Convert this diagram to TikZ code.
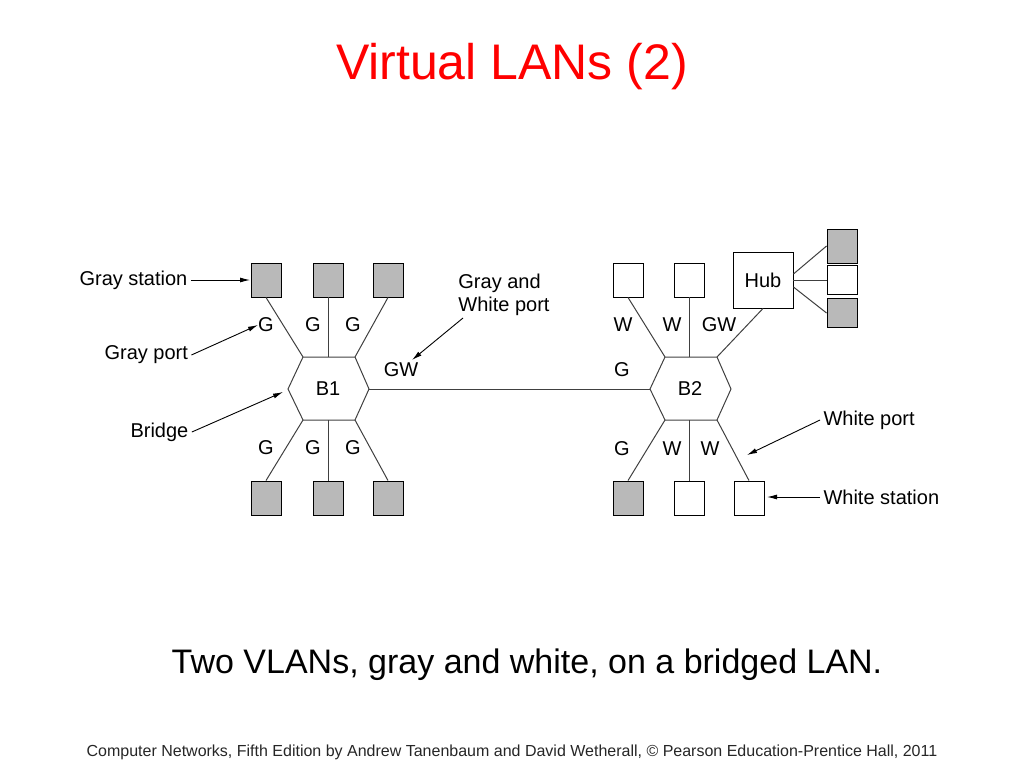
\documentclass[tikz,border=0pt]{standalone}
\usepackage{fontspec}
\setmainfont{Liberation Sans}
\usetikzlibrary{positioning,arrows.meta,calc}
\tikzset{
  gbox/.style={draw, line width=0.9pt, fill=gray!55, minimum width=30pt, minimum height=34pt, inner sep=0pt},
  wbox/.style={draw, line width=0.9pt, fill=white, minimum width=30pt, minimum height=34pt, inner sep=0pt},
  lbl/.style={font=\fontsize{20}{23}\selectfont},
  note/.style={font=\fontsize{20}{23}\selectfont, align=left},
  link/.style={draw=black!75, line width=1pt},
  pointer/.style={-{Latex[length=10pt,width=5pt]}, line width=0.9pt}
}
\newcommand{\hexagon}[2]{% name, centre
  \coordinate (#1tl) at ($(#2)+(-25,-32)$);
  \coordinate (#1tr) at ($(#2)+(27,-32)$);
  \coordinate (#1r)  at ($(#2)+(41,0)$);
  \coordinate (#1br) at ($(#2)+(27,31)$);
  \coordinate (#1bl) at ($(#2)+(-25,31)$);
  \coordinate (#1l)  at ($(#2)+(-40,0)$);
  \draw[link] (#1tl) -- (#1tr) -- (#1r) -- (#1br) -- (#1bl) -- (#1l) -- cycle;
}
\begin{document}
\begin{tikzpicture}[x=1pt,y=-1pt]
  \useasboundingbox (0,0) rectangle (1024,768);

  % title
  \node[text=red, font=\fontsize{50}{54}\selectfont] (title) at (512,67) {Virtual LANs (2)};

  % bridges
  \node[lbl] (B1) at (328,389) {B1};
  \node[lbl] (B2) at (690,389) {B2};
  \hexagon{h1}{B1}
  \hexagon{h2}{B2}

  % stations around B1
  \node[gbox] (s1) at (266,280) {};
  \node[gbox] (s2) at (328,280) {};
  \node[gbox] (s3) at (388,280) {};
  \node[gbox] (s4) at (266,498) {};
  \node[gbox] (s5) at (328,498) {};
  \node[gbox] (s6) at (388,498) {};

  % stations around B2
  \node[wbox] (t1) at (628,280) {};
  \node[wbox] (t2) at (689,280) {};
  \node[draw, line width=0.9pt, fill=white, minimum width=60pt, minimum height=56pt, font=\fontsize{20}{23}\selectfont] (hub) at (763,280) {Hub};
  \node[gbox] (u1) at (842,246) {};
  \node[wbox, minimum height=29pt] (u2) at (842,280) {};
  \node[gbox, minimum height=29pt] (u3) at (842,313) {};
  \node[gbox] (t4) at (628,498) {};
  \node[wbox] (t5) at (689,498) {};
  \node[wbox] (t6) at (749,498) {};

  % wires
  \draw[link] (s1.south) -- (h1tl);
  \draw[link] (s2.south) -- (s2.south |- h1tl);
  \draw[link] (s3.south) -- (h1tr);
  \draw[link] (s4.north) -- (h1bl);
  \draw[link] (s5.north) -- (s5.north |- h1bl);
  \draw[link] (s6.north) -- (h1br);
  \draw[link] (h1r) -- (h2l);
  \draw[link] (t1.south) -- (h2tl);
  \draw[link] (t2.south) -- (t2.south |- h2tl);
  \draw[link] (hub.south) -- (h2tr);
  \draw[link] (t4.north) -- (h2bl);
  \draw[link] (t5.north) -- (t5.north |- h2bl);
  \draw[link] (t6.north) -- (h2br);
  \draw[link] ($(hub.east)+(0,-6)$) -- (u1.west);
  \draw[link] (hub.east) -- (u2.west);
  \draw[link] ($(hub.east)+(0,7)$) -- (u3.west);

  % port labels
  \node[lbl] (p1) at (266,325) {G};
  \node[lbl] (p2) at (313,325) {G};
  \node[lbl] (p3) at (353,325) {G};
  \node[lbl] (p4) at (266,448) {G};
  \node[lbl] (p5) at (313,448) {G};
  \node[lbl] (p6) at (353,448) {G};
  \node[lbl] (p7) at (401,370) {GW};
  \node[lbl] (q1) at (623,325) {W};
  \node[lbl] (q2) at (672,325) {W};
  \node[lbl] (q3) at (719,325) {GW};
  \node[lbl] (q4) at (622,370) {G};
  \node[lbl] (q5) at (622,449) {G};
  \node[lbl] (q6) at (672,449) {W};
  \node[lbl] (q7) at (710,449) {W};

  % annotations
  \node[note, anchor=west] (nstation) at (76,280) {Gray station};
  \node[note, anchor=west] (nport) at (101,355) {Gray port};
  \node[note, anchor=west] (nbridge) at (127,432) {Bridge};
  \node[note, anchor=center] (ngw) at (504,295) {Gray and\\White port};
  \node[note, anchor=west] (nwport) at (820,420) {White port};
  \node[note, anchor=west] (nwstation) at (820,497) {White station};
  \coordinate (a1) at (250,280);
  \coordinate (a2) at (258,325);
  \coordinate (a3) at (283,392);
  \coordinate (a4) at (412,360);
  \coordinate (a5) at (747,455);
  \coordinate (a6) at (767,497);
  \draw[pointer] (nstation.east) -- (a1);
  \draw[pointer] (nport.east) -- (a2);
  \draw[pointer] (nbridge.east) -- (a3);
  \draw[pointer] (463,318) -- (a4);
  \draw[pointer] (nwport.west) -- (a5);
  \draw[pointer] (nwstation.west) -- (a6);

  % captions
  \node[font=\fontsize{34}{38}\selectfont] (caption) at (527,665) {Two VLANs, gray and white, on a bridged LAN.};
  \node[font=\fontsize{16}{19}\selectfont, text=black!85] (footer) at (512,752) {Computer Networks, Fifth Edition by Andrew Tanenbaum and David Wetherall, © Pearson Education-Prentice Hall, 2011};
\end{tikzpicture}
\end{document}
